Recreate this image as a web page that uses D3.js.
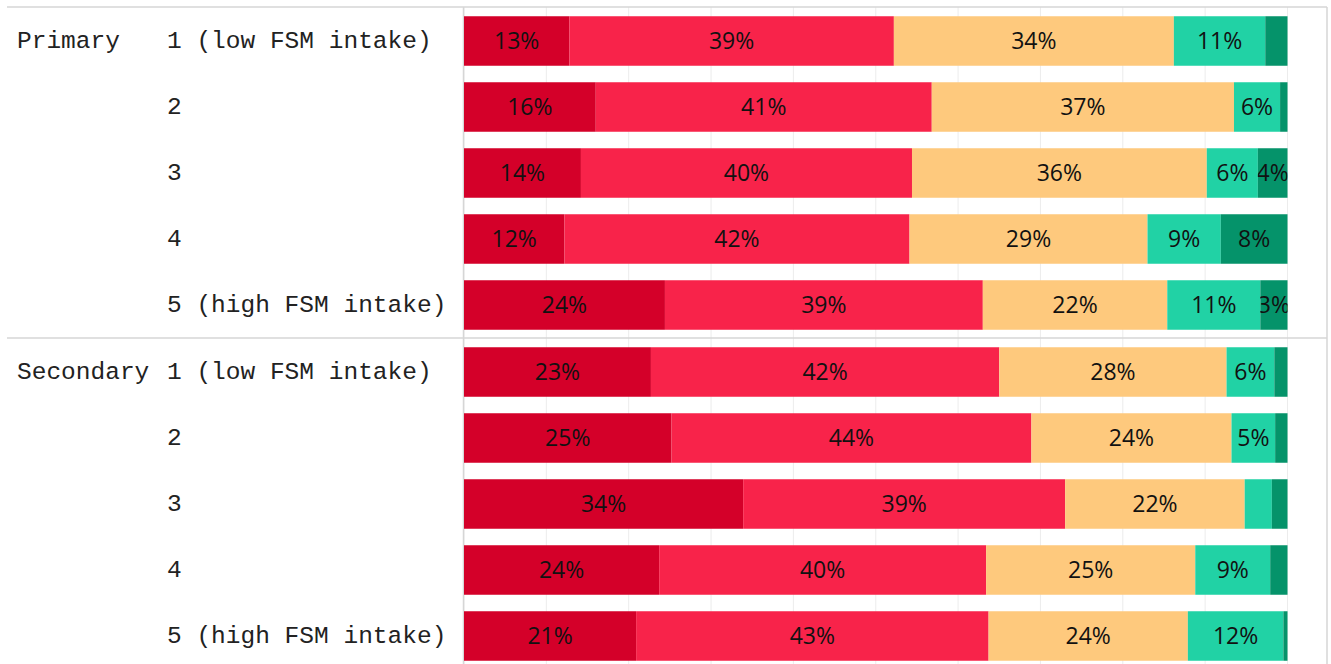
<!DOCTYPE html>
<html>
<head>
<meta charset="utf-8">
<script src="https://cdn.jsdelivr.net/npm/d3@7"></script>
<style>
  html, body { margin: 0; padding: 0; background: #fff; }
  svg { display: block; }
</style>
</head>
<body>
<svg id="chart" width="1331" height="664"></svg>
<script>
// ---------- DATA ----------
const groups = ["Primary", "Secondary"];
const rowLabels = ["1 (low FSM intake)", "2", "3", "4", "5 (high FSM intake)"];
const seriesNames = ["s1", "s2", "s3", "s4", "s5"];
const seriesColors = ["#D40029", "#F8234A", "#FEC97D", "#21D2A5", "#05936A"];

// one array per series, 10 values: Primary rows 1-5 then Secondary rows 1-5 (percent)
const series1 = [12.8, 16.0, 14.2, 12.2, 24.4, 22.7, 25.2, 33.9, 23.7, 20.9];
const series2 = [39.4, 40.8, 40.2, 41.9, 38.6, 42.3, 43.7, 39.1, 39.7, 42.8];
const series3 = [34.0, 36.7, 35.8, 28.9, 22.4, 27.6, 24.3, 21.8, 25.4, 24.2];
const series4 = [11.1, 5.6, 6.2, 8.9, 11.3, 5.8, 5.3, 3.3, 9.1, 11.6];
const series5 = [2.7, 0.9, 3.6, 8.1, 3.3, 1.6, 1.5, 1.9, 2.1, 0.5];

// whether each segment shows its label
const showLabel1 = [1,1,1,1,1,1,1,1,1,1];
const showLabel2 = [1,1,1,1,1,1,1,1,1,1];
const showLabel3 = [1,1,1,1,1,1,1,1,1,1];
const showLabel4 = [1,1,1,1,1,1,1,0,1,1];
const showLabel5 = [0,0,1,1,1,0,0,0,0,0];

const xTicks = [0,10,20,30,40,50,60,70,80,90,100];

// ---------- LAYOUT ----------
const svg = d3.select("#chart");
const W = 1331, H = 664;
const plotLeft = 464, plotRight = 1287.5;
const frameLeft = 7, frameRight = 1327, frameTop = 7;
const panelH = 331;
const rowStep = 66;

const allSeries = [series1, series2, series3, series4, series5];
const allShow = [showLabel1, showLabel2, showLabel3, showLabel4, showLabel5];

const rows = [];
groups.forEach((g, gi) => {
  rowLabels.forEach((r, ri) => {
    const idx = gi * rowLabels.length + ri;
    const obj = { group: g, row: r, gi, ri, idx };
    seriesNames.forEach((s, si) => { obj[s] = allSeries[si][idx]; });
    rows.push(obj);
  });
});

const x = d3.scaleLinear().domain([0, 100]).range([plotLeft, plotRight]);
const yBand = d3.scaleBand()
  .domain(d3.range(rowLabels.length))
  .range([0, rowStep * rowLabels.length])
  .paddingInner(0.25).paddingOuter(0.125);

const panelTop = gi => frameTop + 1 + gi * panelH;

// gridlines
const grid = svg.append("g");
grid.selectAll("line").data(xTicks).join("line")
  .attr("x1", d => x(d)).attr("x2", d => x(d))
  .attr("y1", frameTop).attr("y2", H)
  .attr("stroke", "#ececec").attr("stroke-width", 1);

// frame lines
svg.append("line").attr("x1", frameLeft).attr("x2", frameRight).attr("y1", frameTop).attr("y2", frameTop)
  .attr("stroke", "#d6d6d6").attr("stroke-width", 1.5);
svg.append("line").attr("x1", frameRight).attr("x2", frameRight).attr("y1", frameTop).attr("y2", H)
  .attr("stroke", "#d6d6d6").attr("stroke-width", 1.5);
svg.append("line").attr("x1", frameLeft).attr("x2", frameRight).attr("y1", frameTop + panelH).attr("y2", frameTop + panelH)
  .attr("stroke", "#d6d6d6").attr("stroke-width", 1.5);
svg.append("line").attr("x1", plotLeft - 0.5).attr("x2", plotLeft - 0.5).attr("y1", frameTop).attr("y2", H)
  .attr("stroke", "#d6d6d6").attr("stroke-width", 1.5);

// stack
const stack = d3.stack().keys(seriesNames);
const stacked = stack(rows);
const defs = svg.append("defs");

const rowY = d => panelTop(d.gi) + yBand(d.ri);

stacked.forEach((layer, si) => {
  const g = svg.append("g");
  layer.forEach((seg, k) => {
    const d = seg.data;
    const x0 = x(seg[0]), x1 = x(seg[1]);
    const y0 = rowY(d), h = yBand.bandwidth();
    g.append("rect")
      .attr("x", x0).attr("y", y0)
      .attr("width", Math.max(0, x1 - x0)).attr("height", h)
      .attr("fill", seriesColors[si]);
    if (allShow[si][d.idx]) {
      const cid = `clip-${si}-${k}`;
      defs.append("clipPath").attr("id", cid)
        .append("rect").attr("x", x0).attr("y", y0).attr("width", x1 - x0).attr("height", h);
      g.append("text")
        .attr("clip-path", `url(#${cid})`)
        .attr("x", (x0 + x1) / 2).attr("y", y0 + h / 2)
        .attr("dy", "0.36em")
        .attr("text-anchor", "middle")
        .attr("font-family", "'Open Sans', sans-serif")
        .attr("font-size", 23)
        .attr("fill", "#111")
        .text(Math.round(allSeries[si][d.idx]) + "%");
    }
  });
});

// labels
const labFont = "'Liberation Mono', 'DejaVu Sans Mono', monospace";
svg.append("g").selectAll("text").data(rows).join("text")
  .attr("x", 167).attr("y", d => rowY(d) + yBand.bandwidth() / 2)
  .attr("dy", "0.3em")
  .attr("font-family", labFont).attr("font-size", 24.5).attr("fill", "#222")
  .text(d => d.row);

svg.append("g").selectAll("text").data(groups).join("text")
  .attr("x", 17).attr("y", (d, gi) => panelTop(gi) + yBand(0) + yBand.bandwidth() / 2)
  .attr("dy", "0.3em")
  .attr("font-family", labFont).attr("font-size", 24.5).attr("fill", "#222")
  .text(d => d);
</script>
</body>
</html>
